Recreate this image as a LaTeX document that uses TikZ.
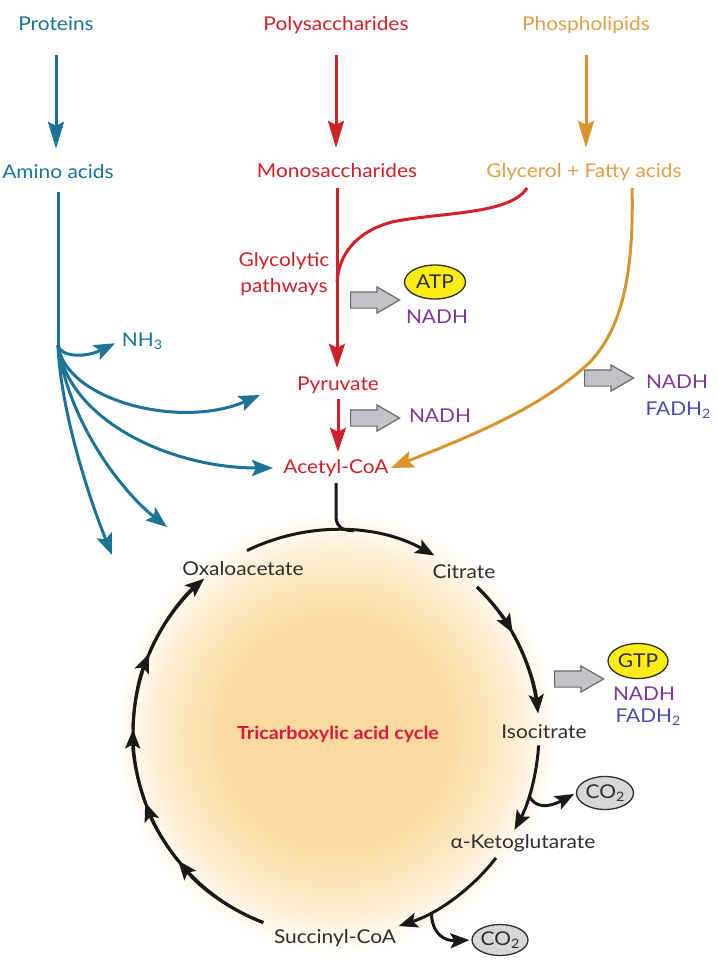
\documentclass[tikz,border=0pt]{standalone}
\usepackage{fontspec}
\setmainfont{Lato}[FakeStretch=1.1]
\usetikzlibrary{arrows.meta,shapes.geometric,shapes.arrows,calc}
\definecolor{tealc}{RGB}{27,115,150}
\definecolor{redc}{RGB}{208,32,42}
\definecolor{orgc}{RGB}{214,150,45}
\definecolor{orgt}{RGB}{222,160,72}
\definecolor{purp}{RGB}{125,55,150}
\definecolor{fadc}{RGB}{72,76,170}
\definecolor{dk}{RGB}{45,45,45}
\definecolor{tcared}{RGB}{220,25,60}
\definecolor{shadeor}{RGB}{250,218,158}
\definecolor{grayar}{RGB}{192,194,197}
\definecolor{grayln}{RGB}{105,105,105}
\definecolor{ylw}{RGB}{250,236,20}
\definecolor{co2c}{RGB}{215,215,215}
\pgfdeclareradialshading{tcashade}{\pgfpoint{0bp}{0bp}}{color(0bp)=(shadeor); color(12bp)=(shadeor); color(19bp)=(shadeor!45!white); color(23bp)=(white); color(50bp)=(white)}
\newcommand\sbs[1]{\raisebox{-0.35ex}{\fontsize{13}{13}\selectfont #1}}
\begin{document}
\begin{tikzpicture}[x=1pt,y=-1pt,font=\fontsize{19}{26}\selectfont,
  lbl/.style={inner sep=2pt,text height=14pt,text depth=4pt},
  toparr/.style={line width=3pt,-{Stealth[length=27pt,width=16pt,inset=4pt]}},
  midarr/.style={line width=3pt,-{Stealth[length=24pt,width=16pt,inset=4pt]}},
  fanarr/.style={draw=tealc,line width=3pt,-{Stealth[length=21pt,width=16pt,inset=4pt]}},
  cyc/.style={draw=black!90,line width=3pt,-{Stealth[length=19pt,width=15pt,inset=4pt]}},
  cycplain/.style={draw=black!90,line width=3pt},
  blk/.style={single arrow,draw=grayln,fill=grayar,line width=1.2pt,minimum height=49pt,minimum width=26pt,inner xsep=0pt,inner ysep=7.5pt,single arrow head extend=5pt,single arrow tip angle=60,anchor=tail},
  ell/.style={ellipse,draw=dk,line width=1.3pt,inner sep=0pt,text=dk}]
\fill[white] (0,0) rectangle (718,978);
\useasboundingbox (0,0) rectangle (718,978);
\shade[shading=tcashade] (336,733) circle (240);
% top labels
\node[lbl,text=tealc] (prot) at (56,25) {Proteins};
\node[lbl,text=redc] (poly) at (336,25) {Polysaccharides};
\node[lbl,text=orgt] (phos) at (586,25) {Phospholipids};
\node[lbl,text=tealc] (amino) at (58,173) {Amino acids};
\node[lbl,text=redc] (mono) at (337,172) {Monosaccharides};
\node[lbl,text=orgt] (glyc) at (584,172) {Glycerol + Fatty acids};
\node[text=redc,align=center,inner sep=0pt] (glyco) at (284,274) {Glycolytic\\pathways};
\node[lbl,text=redc] (pyr) at (338,385) {Pyruvate};
\node[lbl,text=redc] (acet) at (336,468) {Acetyl-CoA};
\node[lbl,text=tealc] (nh3) at (142,341) {NH\sbs{3}};
% energy products
\node[ell,fill=ylw,minimum width=61pt,minimum height=34pt] (atp) at (435,282) {ATP};
\node[lbl,text=purp] (nadh1) at (437,318) {NADH};
\node[lbl,text=purp] (nadh2) at (440,417) {NADH};
\node[lbl,text=purp] (nadh3) at (677,383) {NADH};
\node[lbl,text=fadc] (fadh3) at (678,410) {FADH\sbs{2}};
\node[ell,fill=ylw,minimum width=60pt,minimum height=35pt] (gtp) at (638,661) {GTP};
\node[lbl,text=purp] (nadh4) at (644,695) {NADH};
\node[lbl,text=fadc] (fadh4) at (648,717) {FADH\sbs{2}};
\node[blk] (g1) at (350,300) {};
\node[blk] (g2) at (350,418) {};
\node[blk] (g3) at (584,378) {};
\node[blk] (g4) at (554,679) {};
% cycle labels
\node[lbl,text=dk] (oxa) at (243,570) {Oxaloacetate};
\node[lbl,text=dk] (cit) at (464,573) {Citrate};
\node[lbl,text=dk] (iso) at (544,733) {Isocitrate};
\node[lbl,text=dk] (akg) at (523,843) {α-Ketoglutarate};
\node[lbl,text=dk] (succ) at (335,938) {Succinyl-CoA};
\node[text=tcared,font=\fontsize{18}{22}\selectfont\bfseries] (tca) at (338,734) {Tricarboxylic acid cycle};
\node[ell,fill=co2c,minimum width=57pt,minimum height=33pt] (co2a) at (605,793) {CO\sbs{2}};
\node[ell,fill=co2c,minimum width=56pt,minimum height=31pt] (co2b) at (500,940) {CO\sbs{2}};
% top arrows
\draw[toparr,draw=tealc,shorten <=19pt,shorten >=13pt] (prot.south) -- (prot.south |- amino.north);
\draw[toparr,draw=redc,shorten <=19pt,shorten >=13pt] (poly.south) -- (poly.south |- mono.north);
\draw[toparr,draw=orgc,shorten <=19pt,shorten >=13pt] (phos.south) -- (phos.south |- glyc.north);
% carbohydrate branch
\coordinate (rj) at (337,282);
\coordinate (gs) at (527,188);
\draw[midarr,draw=redc,shorten <=5pt,shorten >=6pt] (mono.south) -- (mono.south |- pyr.north);
\draw[redc,line width=3pt] (gs) .. controls (510,215) and (440,212) .. (392,222) .. controls (355,232) and (339,255) .. (rj);
\draw[midarr,draw=redc,shorten <=3pt,shorten >=5pt] (pyr.south) -- (pyr.south |- acet.north);
% lipid branch
\draw[orgc,line width=3pt,-{Stealth[length=23pt,width=17pt,inset=4pt]},shorten <=5pt] ([xshift=48pt]glyc.south) .. controls (634,280) and (620,330) .. (590,362) .. controls (540,410) and (460,440) .. (acet.east);
% protein branch
\coordinate (tb) at (58,345);
\coordinate (f1) at (260,395);
\coordinate (f2) at (273,468);
\coordinate (f3) at (167,527);
\coordinate (f4) at (112,555);
\draw[tealc,line width=3pt,shorten <=8pt] (amino.south) -- (tb);
\draw[fanarr,shorten >=5pt] (tb) .. controls (60,357) and (85,358) .. (nh3.west);
\draw[fanarr] (tb) .. controls (65,400) and (180,430) .. (f1);
\draw[fanarr] (tb) .. controls (68,420) and (170,468) .. (f2);
\draw[fanarr] (tb) .. controls (68,420) and (120,490) .. (f3);
\draw[fanarr] (tb) .. controls (60,400) and (82,480) .. (f4);
% TCA cycle
\coordinate (ctr) at (336,733);
\coordinate (jn) at ($(ctr)+(-85:203)$);
\draw[cycplain,shorten <=4pt] (acet.south) -- (acet.south |- 0,518) .. controls (337,527) and (342,530.5) .. (jn);
\draw[cyc] ($(ctr)+(-116:203)$) arc[start angle=-116,end angle=-61,radius=203];
\draw[cycplain] ($(ctr)+(-46:203)$) arc[start angle=-46,end angle=-10,radius=203];
\draw[cyc] ($(ctr)+(-46:203)$) arc[start angle=-46,end angle=-29.5,radius=203];
\draw[cyc] ($(ctr)+(-29.5:203)$) arc[start angle=-29.5,end angle=-5.5,radius=203];
\draw[cyc] ($(ctr)+(3.5:203)$) arc[start angle=3.5,end angle=28.5,radius=203];
\draw[cyc] ($(ctr)+(38:203)$) arc[start angle=38,end angle=72,radius=203];
\draw[cycplain] ($(ctr)+(111:203)$) arc[start angle=111,end angle=225,radius=203];
\draw[cyc] ($(ctr)+(111:203)$) arc[start angle=111,end angle=141,radius=203];
\draw[cyc] ($(ctr)+(141:203)$) arc[start angle=141,end angle=160,radius=203];
\draw[cyc] ($(ctr)+(160:203)$) arc[start angle=160,end angle=181,radius=203];
\draw[cyc] ($(ctr)+(181:203)$) arc[start angle=181,end angle=203,radius=203];
\draw[cyc] ($(ctr)+(203:203)$) arc[start angle=203,end angle=229.5,radius=203];
\draw[cyc,shorten >=2pt] ($(ctr)+(18:203)$) .. controls (535,808) and (548,808) .. (co2a.west);
\draw[cyc,shorten >=2pt] ($(ctr)+(62:203)$) .. controls (432,935) and (445,941) .. (co2b.west);
\end{tikzpicture}
\end{document}
